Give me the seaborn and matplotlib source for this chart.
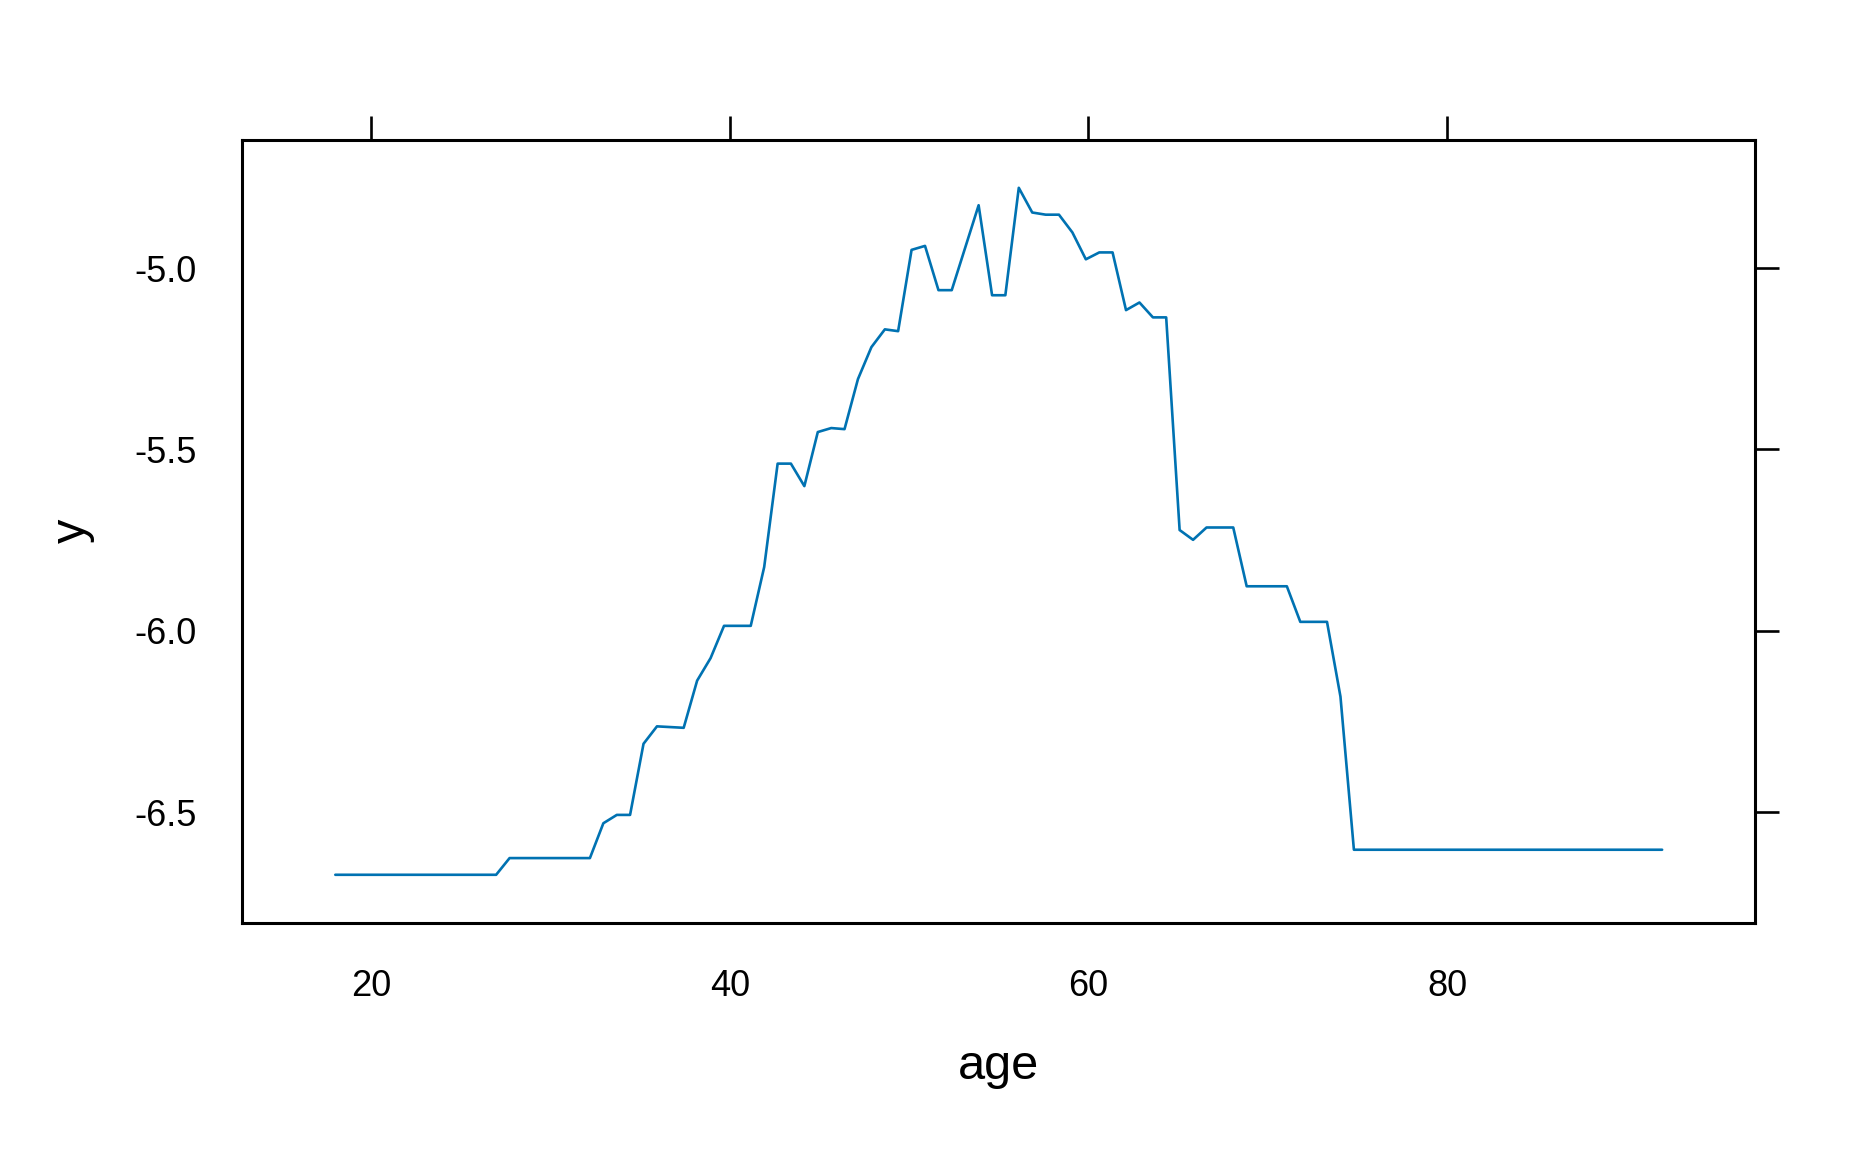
import numpy as np
import pandas as pd
import seaborn as sns
import matplotlib.pyplot as plt
from matplotlib.ticker import FixedLocator, FormatStrFormatter

# partial dependence grid (100 points from 18 to 92)
age = [18.00, 18.75, 19.49, 20.24, 20.99, 21.74, 22.48, 23.23, 23.98, 24.73,
       25.47, 26.22, 26.97, 27.72, 28.46, 29.21, 29.96, 30.71, 31.45, 32.20,
       32.95, 33.70, 34.44, 35.19, 35.94, 36.69, 37.43, 38.18, 38.93, 39.68,
       40.42, 41.17, 41.92, 42.67, 43.41, 44.16, 44.91, 45.66, 46.40, 47.15,
       47.90, 48.65, 49.39, 50.14, 50.89, 51.64, 52.38, 53.13, 53.88, 54.63,
       55.37, 56.12, 56.87, 57.62, 58.36, 59.11, 59.86, 60.61, 61.35, 62.10,
       62.85, 63.60, 64.34, 65.09, 65.84, 66.59, 67.33, 68.08, 68.83, 69.58,
       70.32, 71.07, 71.82, 72.57, 73.31, 74.06, 74.81, 75.56, 76.30, 77.05,
       77.80, 78.55, 79.29, 80.04, 80.79, 81.54, 82.28, 83.03, 83.78, 84.53,
       85.27, 86.02, 86.77, 87.52, 88.26, 89.01, 89.76, 90.51, 91.25, 92.00]

yhat = [-6.672, -6.672, -6.672, -6.672, -6.672, -6.672, -6.672, -6.672, -6.672, -6.672,
        -6.672, -6.672, -6.672, -6.626, -6.626, -6.626, -6.626, -6.626, -6.626, -6.626,
        -6.530, -6.507, -6.507, -6.311, -6.263, -6.265, -6.267, -6.137, -6.075, -5.986,
        -5.986, -5.986, -5.824, -5.539, -5.539, -5.601, -5.452, -5.441, -5.444, -5.306,
        -5.218, -5.169, -5.174, -4.950, -4.939, -5.061, -5.061, -4.944, -4.827, -5.075,
        -5.075, -4.779, -4.847, -4.853, -4.853, -4.902, -4.976, -4.957, -4.957, -5.116,
        -5.095, -5.136, -5.136, -5.722, -5.749, -5.715, -5.715, -5.715, -5.877, -5.877,
        -5.877, -5.877, -5.975, -5.975, -5.975, -6.181, -6.603, -6.603, -6.603, -6.603,
        -6.603, -6.603, -6.603, -6.603, -6.603, -6.603, -6.603, -6.603, -6.603, -6.603,
        -6.603, -6.603, -6.603, -6.603, -6.603, -6.603, -6.603, -6.603, -6.603, -6.603]

x_ticks = [20, 40, 60, 80]
y_ticks = [-5.0, -5.5, -6.0, -6.5]

df = pd.DataFrame({"age": age, "y": yhat})

sns.set_theme(style="white")
plt.rcParams["font.family"] = ["Liberation Sans", "DejaVu Sans"]
plt.rcParams["axes.unicode_minus"] = False

fig = plt.figure(figsize=(18.72, 11.52), dpi=100)
ax = fig.add_axes([0.1295, 0.1989, 0.8080, 0.6798])

sns.lineplot(data=df, x="age", y="y", ax=ax, color="#0072B2", linewidth=1.9)

# lattice-style 7% padding
xr = max(age) - min(age)
yr = max(yhat) - min(yhat)
ax.set_xlim(min(age) - 0.07 * xr, max(age) + 0.07 * xr)
ax.set_ylim(min(yhat) - 0.07 * yr, max(yhat) + 0.07 * yr)

ax.xaxis.set_major_locator(FixedLocator(x_ticks))
ax.yaxis.set_major_locator(FixedLocator(y_ticks))
ax.yaxis.set_major_formatter(FormatStrFormatter("%.1f"))

ax.tick_params(axis="both", direction="out", length=17, width=1.9, color="black",
               top=True, right=True, labeltop=False, labelright=False,
               labelsize=26, labelcolor="black")
ax.tick_params(axis="x", pad=16)
ax.tick_params(axis="y", pad=16)

for s in ax.spines.values():
    s.set_visible(True)
    s.set_color("black")
    s.set_linewidth(2.2)

ax.set_xlabel("age", fontsize=35, color="black", labelpad=29)
ax.set_ylabel("y", fontsize=35, color="black", labelpad=28)
ax.grid(False)

plt.savefig("out.png", dpi=100, facecolor="white")
